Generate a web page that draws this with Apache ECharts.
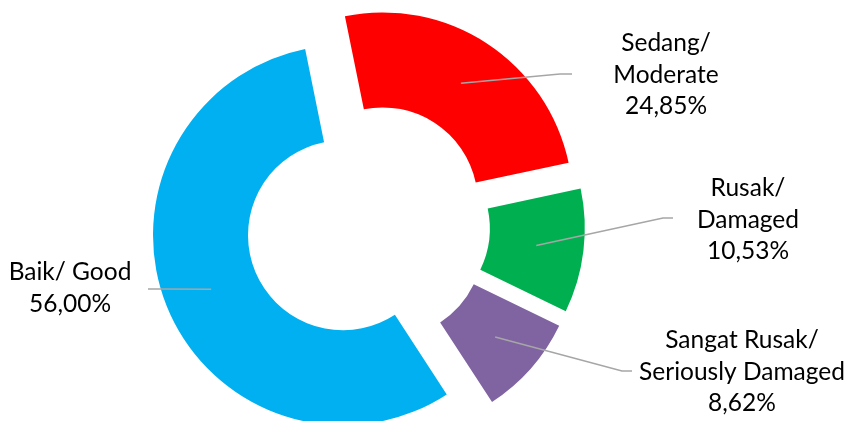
<!DOCTYPE html>
<html>
<head>
<meta charset="utf-8">
<script src="https://cdn.jsdelivr.net/npm/echarts@6/dist/echarts.min.js"></script>
<style>
  html, body { margin: 0; padding: 0; background: #fff; }
  #chart { width: 849px; height: 421px; }
</style>
</head>
<body>
<div id="chart"></div>
<script>
// data
const categories = ['Sedang/\nModerate', 'Rusak/\nDamaged', 'Sangat Rusak/\nSeriously Damaged', 'Baik/ Good'];
const values = [24.85, 10.53, 8.62, 56.00];
const colors = ['#FF0000', '#00B050', '#8064A2', '#00B0F0'];

// layout (px)
const CX = 368, CY = 225;
const R0 = 95, R1 = 190;
const EXPLODE = 27;
const START = -11.5; // degrees clockwise from 12 o'clock
// centre of each label block, and where its leader line bends / ends
const labelPos = [[666, 75], [748, 220], [742, 372], [70, 288]];
const lineEnds = [[[560, 74], [572, 74]], [[663, 218], [673, 218]], [[622, 371], [632, 371]], [[160, 289], [148, 289]]];

// mid angle of each slice -> how far its exploded copy of the ring is shifted
const total = values.reduce((a, b) => a + b, 0);
const midAngles = [];
let acc = START;
values.forEach(v => {
  const span = v / total * 360;
  midAngles.push(acc + span / 2);
  acc += span;
});
const centers = midAngles.map(m => {
  const a = m * Math.PI / 180;
  return [CX + EXPLODE * Math.sin(a), CY - EXPLODE * Math.cos(a)];
});

function linePoints(i) {
  const a = midAngles[i] * Math.PI / 180;
  const rm = (R0 + R1) / 2;
  return [
    [centers[i][0] + rm * Math.sin(a), centers[i][1] - rm * Math.cos(a)],
    lineEnds[i][0],
    lineEnds[i][1]
  ];
}

const chart = echarts.init(document.getElementById('chart'));

// one ring per slice, each shifted out along its slice; only that slice is painted
const rings = categories.map((_, k) => ({
  type: 'pie',
  z: 2,
  center: centers[k],
  radius: [R0, R1],
  startAngle: 90 - START,
  clockwise: true,
  silent: true,
  emphasis: { disabled: true },
  label: { show: false },
  labelLine: { show: false },
  data: categories.map((name, i) => ({
    name: name,
    value: values[i],
    itemStyle: { color: i === k ? colors[i] : 'transparent' }
  }))
}));

// transparent ring on top that carries the labels and leader lines
const labels = {
  type: 'pie',
  z: 3,
  center: [CX, CY],
  radius: [R0, R1],
  startAngle: 90 - START,
  clockwise: true,
  silent: true,
  emphasis: { disabled: true },
  itemStyle: { color: 'transparent' },
  data: categories.map((name, i) => ({ name: name, value: values[i] })),
  label: {
    show: true,
    position: 'outside',
    overflow: 'none',
    color: '#000',
    fontFamily: 'Lato',
    fontSize: 24.5,
    lineHeight: 31.5,
    formatter: (p) => p.name + '\n' + p.value.toFixed(2).replace('.', ',') + '%'
  },
  labelLine: {
    show: true,
    lineStyle: { color: '#A6A6A6', width: 1.5 }
  },
  labelLayout: (params) => {
    const i = params.dataIndex;
    const r = params.labelRect;
    let ax = r.x + r.width / 2;
    if (params.align === 'left') ax = r.x;
    else if (params.align === 'right') ax = r.x + r.width;
    return {
      align: 'center',
      dx: labelPos[i][0] - ax,
      dy: labelPos[i][1] - (r.y + r.height / 2),
      labelLinePoints: linePoints(i)
    };
  }
};

chart.setOption({ animation: false, series: rings.concat([labels]) });
</script>
</body>
</html>
